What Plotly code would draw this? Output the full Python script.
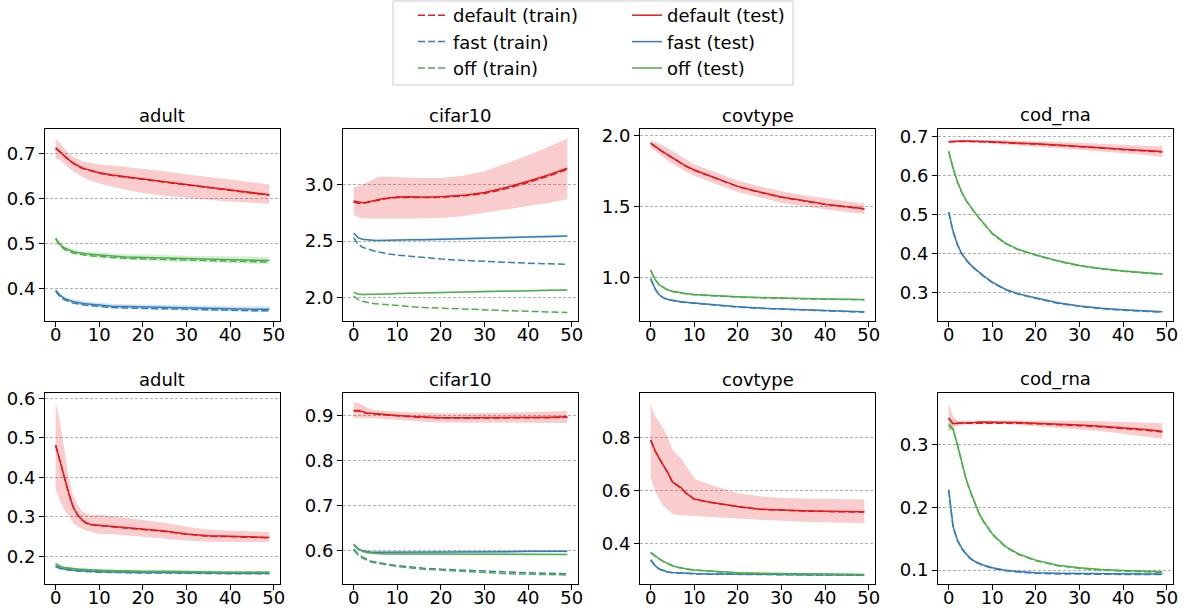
import plotly.graph_objects as go

# ---------------- data ----------------
EPOCHS = [0, 1, 2, 3, 4, 5, 6, 7, 8, 10, 13, 16, 20, 25, 30, 35, 40, 45, 49]
TITLES = ["adult", "cifar10", "covtype", "cod_rna", "adult", "cifar10", "covtype", "cod_rna"]
X_TICKS = [0, 10, 20, 30, 40, 50]

# --- row 1: adult ---
a1_default_test = [0.712, 0.703, 0.694, 0.686, 0.679, 0.673, 0.668, 0.665, 0.662, 0.657, 0.652, 0.648, 0.643, 0.637, 0.631, 0.625, 0.619, 0.613, 0.608]
a1_default_train = [0.711, 0.702, 0.693, 0.685, 0.678, 0.672, 0.667, 0.664, 0.661, 0.656, 0.651, 0.647, 0.642, 0.636, 0.630, 0.624, 0.618, 0.612, 0.607]
a1_default_lo = [0.688, 0.685, 0.677, 0.668, 0.660, 0.654, 0.648, 0.644, 0.640, 0.633, 0.626, 0.619, 0.612, 0.606, 0.601, 0.597, 0.593, 0.590, 0.588]
a1_default_hi = [0.733, 0.722, 0.710, 0.700, 0.692, 0.687, 0.683, 0.680, 0.678, 0.675, 0.673, 0.670, 0.666, 0.660, 0.653, 0.648, 0.642, 0.636, 0.631]
a1_fast_test = [0.396, 0.385, 0.378, 0.374, 0.371, 0.369, 0.367, 0.366, 0.365, 0.363, 0.361, 0.360, 0.359, 0.358, 0.357, 0.356, 0.355, 0.354, 0.354]
a1_fast_train = [0.394, 0.382, 0.375, 0.371, 0.368, 0.366, 0.364, 0.363, 0.362, 0.360, 0.358, 0.357, 0.356, 0.355, 0.354, 0.353, 0.352, 0.351, 0.351]
a1_fast_hw = [0.003, 0.004, 0.004, 0.004, 0.005, 0.005, 0.005, 0.005, 0.005, 0.005, 0.005, 0.005, 0.005, 0.005, 0.006, 0.006, 0.006, 0.006, 0.006]
a1_off_test = [0.512, 0.498, 0.490, 0.486, 0.482, 0.480, 0.478, 0.477, 0.476, 0.474, 0.472, 0.470, 0.469, 0.467, 0.466, 0.465, 0.464, 0.463, 0.462]
a1_off_train = [0.510, 0.495, 0.487, 0.483, 0.479, 0.477, 0.475, 0.474, 0.473, 0.471, 0.469, 0.467, 0.466, 0.464, 0.463, 0.462, 0.461, 0.460, 0.459]
a1_off_hw = [0.003, 0.004, 0.004, 0.005, 0.005, 0.005, 0.005, 0.005, 0.006, 0.006, 0.006, 0.006, 0.007, 0.007, 0.007, 0.007, 0.008, 0.008, 0.008]

# --- row 1: cifar10 ---
c1_default_test = [2.855, 2.845, 2.840, 2.845, 2.855, 2.862, 2.870, 2.877, 2.883, 2.890, 2.892, 2.889, 2.892, 2.905, 2.930, 2.975, 3.030, 3.090, 3.145]
c1_default_train = [2.846, 2.836, 2.833, 2.840, 2.850, 2.858, 2.866, 2.873, 2.879, 2.886, 2.889, 2.886, 2.888, 2.899, 2.921, 2.965, 3.020, 3.080, 3.136]
c1_default_lo = [2.730, 2.710, 2.700, 2.695, 2.695, 2.697, 2.700, 2.700, 2.700, 2.700, 2.700, 2.700, 2.705, 2.720, 2.750, 2.780, 2.810, 2.840, 2.870]
c1_default_hi = [2.980, 2.990, 3.000, 3.020, 3.040, 3.060, 3.070, 3.072, 3.070, 3.065, 3.060, 3.060, 3.060, 3.080, 3.120, 3.190, 3.260, 3.340, 3.410]
c1_fast_test = [2.570, 2.530, 2.515, 2.510, 2.507, 2.505, 2.505, 2.505, 2.505, 2.505, 2.510, 2.512, 2.515, 2.520, 2.525, 2.530, 2.535, 2.540, 2.545]
c1_fast_train = [2.530, 2.470, 2.445, 2.430, 2.415, 2.407, 2.400, 2.392, 2.385, 2.375, 2.363, 2.352, 2.340, 2.328, 2.318, 2.310, 2.303, 2.297, 2.293]
c1_fast_hw = [0.006, 0.007, 0.007, 0.008, 0.008, 0.008, 0.008, 0.009, 0.009, 0.009, 0.010, 0.010, 0.010, 0.011, 0.011, 0.011, 0.012, 0.012, 0.012]
c1_off_test = [2.045, 2.030, 2.025, 2.025, 2.025, 2.026, 2.027, 2.028, 2.030, 2.033, 2.036, 2.040, 2.043, 2.048, 2.052, 2.056, 2.060, 2.063, 2.066]
c1_off_train = [2.012, 1.980, 1.965, 1.955, 1.948, 1.944, 1.940, 1.936, 1.932, 1.926, 1.918, 1.910, 1.903, 1.895, 1.888, 1.882, 1.876, 1.871, 1.866]
c1_off_hw = [0.005, 0.006, 0.006, 0.006, 0.006, 0.007, 0.007, 0.007, 0.007, 0.007, 0.008, 0.008, 0.008, 0.008, 0.009, 0.009, 0.009, 0.009, 0.009]

# --- row 1: covtype ---
v1_default_test = [1.945, 1.920, 1.900, 1.880, 1.860, 1.840, 1.820, 1.800, 1.785, 1.755, 1.720, 1.685, 1.640, 1.600, 1.565, 1.540, 1.515, 1.497, 1.482]
v1_default_train = [1.943, 1.918, 1.898, 1.878, 1.858, 1.838, 1.818, 1.798, 1.783, 1.753, 1.718, 1.683, 1.638, 1.598, 1.563, 1.538, 1.513, 1.495, 1.480]
v1_default_lo = [1.910, 1.890, 1.870, 1.845, 1.820, 1.800, 1.780, 1.762, 1.745, 1.715, 1.680, 1.645, 1.600, 1.560, 1.525, 1.500, 1.478, 1.460, 1.445]
v1_default_hi = [1.965, 1.955, 1.940, 1.925, 1.910, 1.890, 1.870, 1.850, 1.830, 1.795, 1.760, 1.725, 1.680, 1.640, 1.605, 1.578, 1.555, 1.535, 1.520]
v1_fast_test = [0.990, 0.920, 0.875, 0.855, 0.843, 0.836, 0.830, 0.827, 0.824, 0.818, 0.810, 0.802, 0.792, 0.783, 0.776, 0.770, 0.765, 0.760, 0.757]
v1_fast_train = [0.989, 0.918, 0.873, 0.853, 0.841, 0.834, 0.828, 0.825, 0.822, 0.816, 0.808, 0.800, 0.790, 0.781, 0.774, 0.768, 0.763, 0.758, 0.755]
v1_fast_hw = [0.003, 0.003, 0.003, 0.003, 0.003, 0.003, 0.003, 0.003, 0.003, 0.003, 0.003, 0.003, 0.003, 0.003, 0.003, 0.003, 0.003, 0.003, 0.003]
v1_off_test = [1.050, 0.985, 0.946, 0.925, 0.910, 0.902, 0.895, 0.890, 0.885, 0.878, 0.872, 0.867, 0.862, 0.857, 0.852, 0.849, 0.847, 0.845, 0.843]
v1_off_train = [1.048, 0.983, 0.944, 0.923, 0.908, 0.900, 0.893, 0.888, 0.883, 0.876, 0.870, 0.865, 0.860, 0.855, 0.850, 0.847, 0.845, 0.843, 0.841]
v1_off_hw = [0.003, 0.003, 0.003, 0.003, 0.003, 0.003, 0.003, 0.003, 0.003, 0.003, 0.003, 0.003, 0.003, 0.003, 0.003, 0.003, 0.003, 0.003, 0.003]

# --- row 1: cod_rna ---
r1_default_test = [0.687, 0.688, 0.688, 0.689, 0.689, 0.689, 0.689, 0.689, 0.688, 0.687, 0.686, 0.684, 0.682, 0.679, 0.676, 0.672, 0.668, 0.665, 0.662]
r1_default_train = [0.687, 0.688, 0.688, 0.688, 0.688, 0.688, 0.688, 0.688, 0.687, 0.686, 0.685, 0.683, 0.681, 0.678, 0.675, 0.671, 0.667, 0.664, 0.661]
r1_default_lo = [0.684, 0.685, 0.685, 0.686, 0.686, 0.686, 0.686, 0.686, 0.684, 0.683, 0.681, 0.678, 0.675, 0.671, 0.667, 0.662, 0.657, 0.653, 0.648]
r1_default_hi = [0.690, 0.691, 0.691, 0.692, 0.692, 0.692, 0.692, 0.692, 0.692, 0.691, 0.691, 0.690, 0.689, 0.687, 0.685, 0.682, 0.679, 0.677, 0.676]
r1_fast_test = [0.507, 0.458, 0.424, 0.400, 0.385, 0.372, 0.362, 0.352, 0.343, 0.327, 0.309, 0.297, 0.286, 0.274, 0.266, 0.260, 0.256, 0.253, 0.251]
r1_fast_train = [0.506, 0.457, 0.423, 0.399, 0.384, 0.371, 0.361, 0.351, 0.342, 0.326, 0.308, 0.296, 0.285, 0.273, 0.265, 0.259, 0.255, 0.252, 0.250]
r1_fast_hw = [0.002, 0.002, 0.002, 0.002, 0.002, 0.002, 0.002, 0.002, 0.002, 0.002, 0.002, 0.002, 0.002, 0.002, 0.002, 0.002, 0.002, 0.002, 0.002]
r1_off_test = [0.663, 0.620, 0.585, 0.558, 0.537, 0.520, 0.506, 0.492, 0.479, 0.452, 0.427, 0.411, 0.397, 0.382, 0.370, 0.362, 0.356, 0.351, 0.348]
r1_off_train = [0.662, 0.619, 0.584, 0.557, 0.536, 0.519, 0.505, 0.491, 0.478, 0.451, 0.426, 0.410, 0.396, 0.381, 0.369, 0.361, 0.355, 0.350, 0.347]
r1_off_hw = [0.002, 0.002, 0.002, 0.002, 0.002, 0.002, 0.002, 0.002, 0.002, 0.002, 0.002, 0.002, 0.002, 0.002, 0.002, 0.002, 0.002, 0.002, 0.002]

# --- row 2: adult ---
a2_default_test = [0.482, 0.440, 0.402, 0.360, 0.326, 0.306, 0.293, 0.285, 0.281, 0.279, 0.276, 0.273, 0.269, 0.264, 0.257, 0.252, 0.251, 0.250, 0.248]
a2_default_train = [0.481, 0.439, 0.401, 0.359, 0.325, 0.305, 0.292, 0.284, 0.280, 0.278, 0.275, 0.272, 0.268, 0.263, 0.256, 0.251, 0.250, 0.249, 0.247]
a2_default_lo = [0.370, 0.340, 0.318, 0.300, 0.285, 0.276, 0.270, 0.265, 0.262, 0.257, 0.256, 0.254, 0.250, 0.245, 0.240, 0.237, 0.236, 0.236, 0.236]
a2_default_hi = [0.590, 0.540, 0.470, 0.400, 0.355, 0.330, 0.315, 0.308, 0.305, 0.306, 0.302, 0.298, 0.293, 0.285, 0.275, 0.268, 0.265, 0.263, 0.262]
a2_fast_test = [0.175, 0.170, 0.168, 0.166, 0.165, 0.164, 0.163, 0.163, 0.162, 0.161, 0.160, 0.160, 0.159, 0.159, 0.158, 0.158, 0.157, 0.157, 0.157]
a2_fast_train = [0.174, 0.169, 0.167, 0.165, 0.164, 0.163, 0.162, 0.162, 0.161, 0.160, 0.159, 0.159, 0.158, 0.158, 0.157, 0.157, 0.156, 0.156, 0.156]
a2_fast_hw = [0.002, 0.002, 0.002, 0.002, 0.002, 0.002, 0.002, 0.002, 0.002, 0.002, 0.002, 0.002, 0.002, 0.002, 0.002, 0.002, 0.002, 0.002, 0.002]
a2_off_test = [0.181, 0.175, 0.172, 0.170, 0.169, 0.168, 0.167, 0.166, 0.166, 0.165, 0.164, 0.163, 0.162, 0.162, 0.161, 0.161, 0.160, 0.160, 0.160]
a2_off_train = [0.180, 0.174, 0.171, 0.169, 0.168, 0.167, 0.166, 0.165, 0.165, 0.164, 0.163, 0.162, 0.161, 0.161, 0.160, 0.160, 0.159, 0.159, 0.159]
a2_off_hw = [0.002, 0.002, 0.002, 0.002, 0.002, 0.002, 0.002, 0.002, 0.002, 0.002, 0.002, 0.002, 0.002, 0.002, 0.002, 0.002, 0.002, 0.002, 0.002]

# --- row 2: cifar10 ---
c2_default_test = [0.912, 0.912, 0.910, 0.906, 0.906, 0.905, 0.905, 0.904, 0.903, 0.901, 0.899, 0.897, 0.896, 0.896, 0.896, 0.897, 0.897, 0.897, 0.898]
c2_default_train = [0.911, 0.911, 0.909, 0.905, 0.905, 0.904, 0.904, 0.903, 0.902, 0.900, 0.898, 0.896, 0.895, 0.895, 0.895, 0.896, 0.896, 0.896, 0.897]
c2_default_lo = [0.895, 0.895, 0.895, 0.894, 0.895, 0.895, 0.895, 0.894, 0.893, 0.891, 0.889, 0.887, 0.885, 0.884, 0.884, 0.884, 0.884, 0.884, 0.884]
c2_default_hi = [0.930, 0.929, 0.925, 0.918, 0.915, 0.913, 0.912, 0.911, 0.910, 0.909, 0.908, 0.907, 0.906, 0.906, 0.906, 0.907, 0.908, 0.909, 0.911]
c2_fast_test = [0.612, 0.603, 0.599, 0.597, 0.596, 0.596, 0.596, 0.596, 0.596, 0.596, 0.596, 0.596, 0.596, 0.597, 0.597, 0.597, 0.598, 0.598, 0.598]
c2_fast_train = [0.603, 0.592, 0.585, 0.580, 0.576, 0.574, 0.572, 0.570, 0.569, 0.566, 0.563, 0.560, 0.558, 0.556, 0.553, 0.551, 0.550, 0.549, 0.548]
c2_fast_hw = [0.002, 0.002, 0.002, 0.002, 0.002, 0.002, 0.002, 0.002, 0.003, 0.003, 0.003, 0.003, 0.003, 0.003, 0.003, 0.003, 0.003, 0.003, 0.003]
c2_off_test = [0.614, 0.604, 0.598, 0.595, 0.594, 0.593, 0.593, 0.592, 0.592, 0.592, 0.592, 0.591, 0.591, 0.591, 0.591, 0.591, 0.591, 0.591, 0.591]
c2_off_train = [0.601, 0.590, 0.583, 0.578, 0.574, 0.572, 0.570, 0.568, 0.567, 0.564, 0.561, 0.558, 0.556, 0.553, 0.550, 0.548, 0.547, 0.546, 0.545]
c2_off_hw = [0.002, 0.002, 0.002, 0.002, 0.002, 0.002, 0.002, 0.002, 0.002, 0.002, 0.002, 0.002, 0.002, 0.002, 0.002, 0.002, 0.002, 0.002, 0.002]

# --- row 2: covtype ---
v2_default_test = [0.790, 0.750, 0.720, 0.695, 0.665, 0.632, 0.622, 0.610, 0.592, 0.568, 0.558, 0.550, 0.540, 0.530, 0.526, 0.524, 0.522, 0.521, 0.520]
v2_default_train = [0.789, 0.749, 0.719, 0.694, 0.664, 0.631, 0.621, 0.609, 0.591, 0.567, 0.557, 0.549, 0.539, 0.529, 0.525, 0.523, 0.521, 0.520, 0.519]
v2_default_lo = [0.650, 0.600, 0.565, 0.540, 0.525, 0.512, 0.508, 0.506, 0.505, 0.503, 0.500, 0.498, 0.495, 0.490, 0.486, 0.483, 0.480, 0.478, 0.477]
v2_default_hi = [0.925, 0.880, 0.855, 0.830, 0.795, 0.755, 0.735, 0.720, 0.695, 0.645, 0.625, 0.610, 0.590, 0.578, 0.572, 0.570, 0.568, 0.567, 0.566]
v2_fast_test = [0.340, 0.318, 0.305, 0.298, 0.294, 0.292, 0.291, 0.290, 0.290, 0.288, 0.287, 0.287, 0.286, 0.285, 0.285, 0.284, 0.284, 0.283, 0.283]
v2_fast_train = [0.339, 0.317, 0.304, 0.297, 0.293, 0.291, 0.290, 0.289, 0.289, 0.287, 0.286, 0.286, 0.285, 0.284, 0.284, 0.283, 0.283, 0.282, 0.282]
v2_fast_hw = [0.002, 0.002, 0.002, 0.002, 0.002, 0.002, 0.002, 0.002, 0.002, 0.002, 0.002, 0.002, 0.002, 0.002, 0.002, 0.002, 0.002, 0.002, 0.002]
v2_off_test = [0.368, 0.355, 0.343, 0.333, 0.325, 0.318, 0.313, 0.309, 0.306, 0.302, 0.298, 0.295, 0.291, 0.289, 0.288, 0.287, 0.286, 0.285, 0.285]
v2_off_train = [0.367, 0.354, 0.342, 0.332, 0.324, 0.317, 0.312, 0.308, 0.305, 0.301, 0.297, 0.294, 0.290, 0.288, 0.287, 0.286, 0.285, 0.284, 0.284]
v2_off_hw = [0.002, 0.002, 0.002, 0.002, 0.002, 0.002, 0.002, 0.002, 0.002, 0.002, 0.002, 0.002, 0.002, 0.002, 0.002, 0.002, 0.002, 0.002, 0.002]

# --- row 2: cod_rna ---
r2_default_test = [0.342, 0.333, 0.334, 0.334, 0.335, 0.335, 0.335, 0.336, 0.336, 0.336, 0.336, 0.335, 0.334, 0.333, 0.331, 0.329, 0.327, 0.324, 0.321]
r2_default_train = [0.342, 0.333, 0.334, 0.334, 0.335, 0.335, 0.335, 0.335, 0.335, 0.335, 0.335, 0.334, 0.333, 0.332, 0.330, 0.328, 0.326, 0.323, 0.320]
r2_default_lo = [0.320, 0.328, 0.330, 0.331, 0.332, 0.332, 0.332, 0.333, 0.333, 0.333, 0.333, 0.331, 0.329, 0.327, 0.324, 0.321, 0.317, 0.313, 0.309]
r2_default_hi = [0.366, 0.345, 0.338, 0.338, 0.338, 0.339, 0.339, 0.339, 0.339, 0.339, 0.339, 0.339, 0.339, 0.339, 0.338, 0.337, 0.336, 0.335, 0.334]
r2_fast_test = [0.228, 0.170, 0.148, 0.135, 0.126, 0.119, 0.114, 0.111, 0.108, 0.104, 0.100, 0.098, 0.096, 0.095, 0.0945, 0.094, 0.094, 0.094, 0.094]
r2_fast_train = [0.227, 0.169, 0.147, 0.134, 0.125, 0.118, 0.113, 0.110, 0.107, 0.103, 0.099, 0.097, 0.095, 0.094, 0.0935, 0.093, 0.093, 0.093, 0.093]
r2_fast_hw = [0.008, 0.004, 0.002, 0.002, 0.002, 0.002, 0.002, 0.002, 0.002, 0.001, 0.001, 0.001, 0.001, 0.001, 0.001, 0.001, 0.001, 0.001, 0.001]
r2_off_test = [0.332, 0.325, 0.300, 0.272, 0.245, 0.225, 0.206, 0.190, 0.178, 0.158, 0.138, 0.126, 0.116, 0.108, 0.104, 0.101, 0.0995, 0.098, 0.0975]
r2_off_train = [0.331, 0.324, 0.299, 0.271, 0.244, 0.224, 0.205, 0.189, 0.177, 0.157, 0.137, 0.125, 0.115, 0.107, 0.103, 0.100, 0.0985, 0.097, 0.0965]
r2_off_hw = [0.008, 0.004, 0.003, 0.002, 0.002, 0.002, 0.002, 0.002, 0.002, 0.001, 0.001, 0.001, 0.001, 0.001, 0.001, 0.001, 0.001, 0.001, 0.001]

# ---------------- panel definitions ----------------
PANELS = [
    dict(d=(a1_default_train, a1_default_test, a1_default_lo, a1_default_hi),
         f=(a1_fast_train, a1_fast_test, a1_fast_hw), o=(a1_off_train, a1_off_test, a1_off_hw),
         yr=[0.328, 0.754], yt=[0.4, 0.5, 0.6, 0.7]),
    dict(d=(c1_default_train, c1_default_test, c1_default_lo, c1_default_hi),
         f=(c1_fast_train, c1_fast_test, c1_fast_hw), o=(c1_off_train, c1_off_test, c1_off_hw),
         yr=[1.79, 3.494], yt=[2.0, 2.5, 3.0]),
    dict(d=(v1_default_train, v1_default_test, v1_default_lo, v1_default_hi),
         f=(v1_fast_train, v1_fast_test, v1_fast_hw), o=(v1_off_train, v1_off_test, v1_off_hw),
         yr=[0.692, 2.044], yt=[1.0, 1.5, 2.0]),
    dict(d=(r1_default_train, r1_default_test, r1_default_lo, r1_default_hi),
         f=(r1_fast_train, r1_fast_test, r1_fast_hw), o=(r1_off_train, r1_off_test, r1_off_hw),
         yr=[0.2274, 0.72], yt=[0.3, 0.4, 0.5, 0.6, 0.7]),
    dict(d=(a2_default_train, a2_default_test, a2_default_lo, a2_default_hi),
         f=(a2_fast_train, a2_fast_test, a2_fast_hw), o=(a2_off_train, a2_off_test, a2_off_hw),
         yr=[0.130, 0.614], yt=[0.2, 0.3, 0.4, 0.5, 0.6]),
    dict(d=(c2_default_train, c2_default_test, c2_default_lo, c2_default_hi),
         f=(c2_fast_train, c2_fast_test, c2_fast_hw), o=(c2_off_train, c2_off_test, c2_off_hw),
         yr=[0.525, 0.951], yt=[0.6, 0.7, 0.8, 0.9]),
    dict(d=(v2_default_train, v2_default_test, v2_default_lo, v2_default_hi),
         f=(v2_fast_train, v2_fast_test, v2_fast_hw), o=(v2_off_train, v2_off_test, v2_off_hw),
         yr=[0.249, 0.966], yt=[0.4, 0.6, 0.8]),
    dict(d=(r2_default_train, r2_default_test, r2_default_lo, r2_default_hi),
         f=(r2_fast_train, r2_fast_test, r2_fast_hw), o=(r2_off_train, r2_off_test, r2_off_hw),
         yr=[0.078, 0.382], yt=[0.1, 0.2, 0.3]),
]

RED, BLUE, GREEN = "#e41a1c", "#377eb8", "#4daf4a"
BAND = {RED: "rgba(228,26,28,0.22)", BLUE: "rgba(55,126,184,0.22)", GREEN: "rgba(77,175,74,0.22)"}

W, H = 1190, 612
COL_PX = [(45, 280), (343, 578), (640, 875), (938, 1173)]
ROW_PX = [(129, 321), (393, 584)]
FONT = "DejaVu Sans"
FS = 18

fig = go.Figure()
layout = dict(
    width=W, height=H, autosize=False,
    margin=dict(l=0, r=0, t=0, b=0, autoexpand=False),
    paper_bgcolor="white", plot_bgcolor="white",
    font=dict(family=FONT, size=FS, color="black"),
    showlegend=True,
    annotations=[], shapes=[],
)

for i, p in enumerate(PANELS):
    r, c = divmod(i, 4)
    n = i + 1
    xa = "x" if n == 1 else f"x{n}"
    ya = "y" if n == 1 else f"y{n}"
    x0, x1 = COL_PX[c]
    y0, y1 = ROW_PX[r]
    xdom = [x0 / W, x1 / W]
    ydom = [1 - y1 / H, 1 - y0 / H]
    axis_common = dict(showline=True, linecolor="black", linewidth=1, mirror=True,
                       ticks="outside", ticklen=5, tickwidth=1, tickcolor="black",
                       zeroline=False, automargin=False,
                       tickfont=dict(family=FONT, size=FS, color="black"))
    layout[f"xaxis{'' if n == 1 else n}"] = dict(
        domain=xdom, anchor=ya, range=[-2.45, 51.45], tickvals=X_TICKS,
        showgrid=False, ticklabelstandoff=-8, **axis_common)
    layout[f"yaxis{'' if n == 1 else n}"] = dict(
        domain=ydom, anchor=xa, range=p["yr"], tickvals=p["yt"], tickformat=".1f",
        showgrid=True, gridcolor="#b0b0b0", gridwidth=0.8, griddash="3px,2px", **axis_common)
    layout["annotations"].append(dict(
        text=TITLES[i], xref="paper", yref="paper", x=(xdom[0] + xdom[1]) / 2, y=ydom[1],
        xanchor="center", yanchor="bottom", yshift=1, showarrow=False,
        font=dict(family=FONT, size=FS, color="black")))

    first = (i == 0)
    series = [
        ("default", RED, p["d"][0], p["d"][1], p["d"][2], p["d"][3]),
        ("fast", BLUE, p["f"][0], p["f"][1], [a - b for a, b in zip(p["f"][1], p["f"][2])],
         [a + b for a, b in zip(p["f"][1], p["f"][2])]),
        ("off", GREEN, p["o"][0], p["o"][1], [a - b for a, b in zip(p["o"][1], p["o"][2])],
         [a + b for a, b in zip(p["o"][1], p["o"][2])]),
    ]
    # bands
    for name, col, tr, te, lo, hi in series:
        fig.add_trace(go.Scatter(
            x=EPOCHS + EPOCHS[::-1], y=hi + lo[::-1], fill="toself", fillcolor=BAND[col],
            line=dict(width=0), mode="lines", hoverinfo="skip", showlegend=False,
            xaxis=xa, yaxis=ya))
    # lines
    for name, col, tr, te, lo, hi in series:
        fig.add_trace(go.Scatter(
            x=EPOCHS, y=tr, mode="lines", name=f"{name} (train)",
            line=dict(color=col, width=1.5, dash="7px,3px"),
            showlegend=first, legend="legend", legendgroup=f"{name}tr",
            xaxis=xa, yaxis=ya))
        fig.add_trace(go.Scatter(
            x=EPOCHS, y=te, mode="lines", name=f"{name} (test)",
            line=dict(color=col, width=1.5),
            showlegend=first, legend="legend2", legendgroup=f"{name}te",
            xaxis=xa, yaxis=ya))

legend_common = dict(orientation="v", xanchor="left", yanchor="top",
                     bgcolor="rgba(0,0,0,0)", borderwidth=0, tracegroupgap=0,
                     font=dict(family=FONT, size=FS, color="black"))
layout["legend"] = dict(x=413 / W, y=1 + 3 / H, **legend_common)
layout["legend2"] = dict(x=627 / W, y=1 + 3 / H, **legend_common)
layout["shapes"].append(dict(type="rect", xref="paper", yref="paper",
                             x0=393 / W, x1=793 / W, y0=1 - 85 / H, y1=1 - 1 / H,
                             line=dict(color="#cccccc", width=1), fillcolor="rgba(0,0,0,0)"))

fig.update_layout(**layout)
fig.write_html("out.html", config={"displayModeBar": False},
               post_script="document.body.style.margin='0px';document.body.style.overflow='hidden';")
